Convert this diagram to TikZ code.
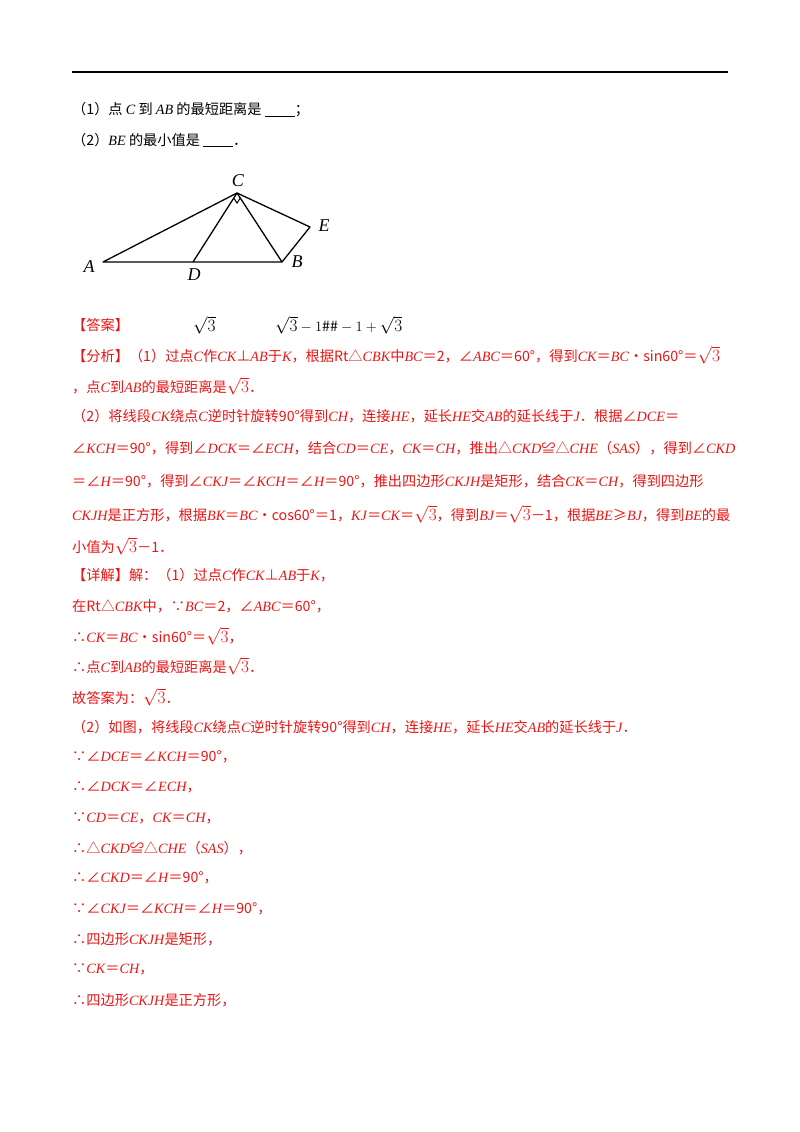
\documentclass[tikz,border=0pt]{standalone}
\usepackage{fontspec}
\usetikzlibrary{calc}
\setmainfont{Liberation Serif}
\newfontfamily\cjk{Noto Sans CJK SC}
\newcommand{\mi}[1]{{\rmfamily\itshape #1}}
\newcommand{\bl}{\underline{\hspace{30pt}}}
\newcommand{\rt}{{\fontsize{17}{19}\selectfont$\sqrt{3}$}}
\definecolor{ans}{RGB}{235,20,20}
\begin{document}
\begin{tikzpicture}[x=1pt,y=-1pt,
  ln/.style={anchor=west,inner sep=0,font=\cjk\fontsize{14.2}{16}\selectfont},
  rd/.style={ln,text=ans},
  seg/.style={line width=1.3pt},
  lab/.style={inner sep=0,font=\rmfamily\itshape\fontsize{18}{20}\selectfont}]
\useasboundingbox (0,0) rectangle (800,1132);
\draw[line width=1.2pt] (72,72) -- (728,72);
\node[ln] (q1) at (72,110) {（1）点 \mi{C} 到 \mi{AB} 的最短距离是 \bl；};
\node[ln] (q2) at (72,140) {（2）\mi{BE} 的最小值是 \bl．};
% figure
\coordinate (A) at (103,262); \coordinate (D) at (193,262);
\coordinate (B) at (282,262); \coordinate (C) at (237,193);
\coordinate (E) at (310,227);
\draw[seg,line join=round] (A) -- (B) -- (E) -- (C) -- cycle;
\draw[seg] (C) -- (D); \draw[seg] (C) -- (B);
\coordinate (p) at ($(C)!6pt!(D)$);
\coordinate (q) at ($(C)!6pt!(B)$);
\draw[line width=1pt] (p) -- ($(p)+(q)-(C)$) -- (q);
\node[lab] (lA) at (89,267) {A};
\node[lab] (lD) at (194,275) {D};
\node[lab] (lB) at (297,262) {B};
\node[lab] (lE) at (324,226) {E};
\node[lab] (lC) at (238,181) {C};
% answer
\node[rd] (a0) at (72,325) {【答案】};
\node[ln] (a1) at (193,325) {\rt};
\node[ln] (a2) at (275,325) {\rt${}-1$\#\#${}-1+{}$\rt};
\node[rd] (f1) at (72,355) {【分析】（1）过点\mi{C}作\mi{CK}⊥\mi{AB}于\mi{K}，根据Rt△\mi{CBK}中\mi{BC}＝2，∠\mi{ABC}＝60°，得到\mi{CK}＝\mi{BC}•sin60°＝\rt};
\node[rd] (f2) at (72,386) {，点\mi{C}到\mi{AB}的最短距离是\rt．};
\node[rd] (f3) at (72,416) {（2）将线段\mi{CK}绕点\mi{C}逆时针旋转90°得到\mi{CH}，连接\mi{HE}，延长\mi{HE}交\mi{AB}的延长线于\mi{J}．根据∠\mi{DCE}＝};
\node[rd] (f4) at (72,448) {∠\mi{KCH}＝90°，得到∠\mi{DCK}＝∠\mi{ECH}，结合\mi{CD}＝\mi{CE}，\mi{CK}＝\mi{CH}，推出△\mi{CKD}≌△\mi{CHE}（\mi{SAS}），得到∠\mi{CKD}};
\node[rd] (f5) at (72,481) {＝∠\mi{H}＝90°，得到∠\mi{CKJ}＝∠\mi{KCH}＝∠\mi{H}＝90°，推出四边形\mi{CKJH}是矩形，结合\mi{CK}＝\mi{CH}，得到四边形};
\node[rd] (f6) at (72,514) {\mi{CKJH}是正方形，根据\mi{BK}＝\mi{BC}•cos60°＝1，\mi{KJ}＝\mi{CK}＝\rt，得到\mi{BJ}＝\rt{}－1，根据\mi{BE}≥\mi{BJ}，得到\mi{BE}的最};
\node[rd] (f7) at (72,546) {小值为\rt{}－1．};
\node[rd] (d1) at (72,575) {【详解】解：（1）过点\mi{C}作\mi{CK}⊥\mi{AB}于\mi{K}，};
\node[rd] (d2) at (72,606) {在Rt△\mi{CBK}中，∵\mi{BC}＝2，∠\mi{ABC}＝60°，};
\node[rd] (d3) at (72,636) {∴\mi{CK}＝\mi{BC}•sin60°＝\rt，};
\node[rd] (d4) at (72,666) {∴点\mi{C}到\mi{AB}的最短距离是\rt．};
\node[rd] (d5) at (72,697) {故答案为：\rt．};
\node[rd] (d6) at (72,727) {（2）如图，将线段\mi{CK}绕点\mi{C}逆时针旋转90°得到\mi{CH}，连接\mi{HE}，延长\mi{HE}交\mi{AB}的延长线于\mi{J}．};
\node[rd] (d7) at (72,757) {∵∠\mi{DCE}＝∠\mi{KCH}＝90°，};
\node[rd] (d8) at (72,787) {∴∠\mi{DCK}＝∠\mi{ECH}，};
\node[rd] (d9) at (72,818) {∵\mi{CD}＝\mi{CE}，\mi{CK}＝\mi{CH}，};
\node[rd] (d10) at (72,848) {∴△\mi{CKD}≌△\mi{CHE}（\mi{SAS}），};
\node[rd] (d11) at (72,878) {∴∠\mi{CKD}＝∠\mi{H}＝90°，};
\node[rd] (d12) at (72,909) {∵∠\mi{CKJ}＝∠\mi{KCH}＝∠\mi{H}＝90°，};
\node[rd] (d13) at (72,939) {∴四边形\mi{CKJH}是矩形，};
\node[rd] (d14) at (72,969) {∵\mi{CK}＝\mi{CH}，};
\node[rd] (d15) at (72,1000) {∴四边形\mi{CKJH}是正方形，};
\end{tikzpicture}
\end{document}
